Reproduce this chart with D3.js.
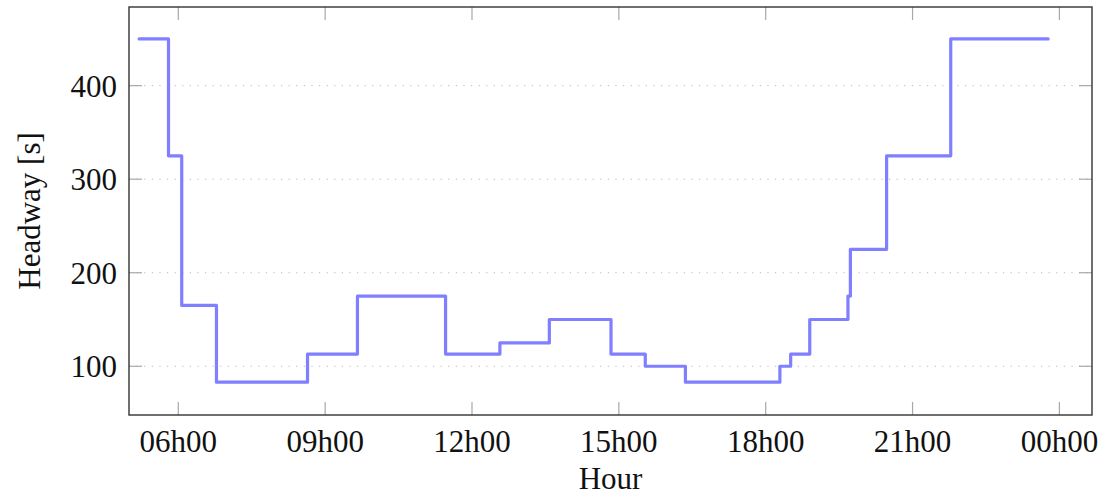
<!DOCTYPE html>
<html>
<head>
<meta charset="utf-8">
<script src="https://cdn.jsdelivr.net/npm/d3@7"></script>
<style>
  body { margin: 0; background: #fff; }
  text { font-family: "Liberation Serif", "DejaVu Serif", serif; fill: #111; }
</style>
</head>
<body>
<div id="chart"></div>
<script>
// step start times (decimal hours) and headway in seconds
var hours = [5.20, 5.80, 6.07, 6.78, 8.64, 9.66, 11.46, 12.57, 13.58, 14.84, 15.54, 16.36, 18.29, 18.51, 18.90, 19.68, 19.73, 20.47, 21.78, 23.77];
var headways = [450, 325, 165, 83, 113, 175, 113, 125, 150, 113, 100, 83, 100, 113, 150, 175, 225, 325, 450, 450];
var xTicks = [6, 9, 12, 15, 18, 21, 24];
var xTickLabels = ["06h00", "09h00", "12h00", "15h00", "18h00", "21h00", "00h00"];
var yTicks = [100, 200, 300, 400];

var width = 1102, height = 498,
	margin = { top: 7, right: 10, bottom: 83, left: 129 };

var svg = d3.select("#chart").append("svg")
	.attr("width", width)
	.attr("height", height);

var x = d3.scaleLinear()
	.domain([4.993, 24.666])
	.range([margin.left, width - margin.right]);

var y = d3.scaleLinear()
	.domain([47.9, 484.1])
	.range([height - margin.bottom, margin.top]);

var x0 = margin.left, x1 = width - margin.right,
	y0 = height - margin.bottom, y1 = margin.top;

// dotted horizontal grid
svg.selectAll(".grid")
	.data(yTicks)
	.enter().append("line")
	.attr("class", "grid")
	.attr("x1", x0).attr("x2", x1)
	.attr("y1", function(d) { return y(d); })
	.attr("y2", function(d) { return y(d); })
	.attr("stroke", "#b8b8b8")
	.attr("stroke-width", 1)
	.attr("stroke-dasharray", "1.2,6.4");

// inner ticks on all four sides
var tickLen = 13;
xTicks.forEach(function(t) {
	svg.append("line").attr("x1", x(t)).attr("x2", x(t)).attr("y1", y0).attr("y2", y0 - tickLen)
		.attr("stroke", "#a8a8a8").attr("stroke-width", 1.2);
	svg.append("line").attr("x1", x(t)).attr("x2", x(t)).attr("y1", y1).attr("y2", y1 + tickLen)
		.attr("stroke", "#a8a8a8").attr("stroke-width", 1.2);
});
yTicks.forEach(function(t) {
	svg.append("line").attr("x1", x0).attr("x2", x0 + tickLen).attr("y1", y(t)).attr("y2", y(t))
		.attr("stroke", "#a8a8a8").attr("stroke-width", 1.2);
	svg.append("line").attr("x1", x1).attr("x2", x1 - tickLen).attr("y1", y(t)).attr("y2", y(t))
		.attr("stroke", "#a8a8a8").attr("stroke-width", 1.2);
});

// the headway step line
var line = d3.line()
	.x(function(d, i) { return x(hours[i]); })
	.y(function(d) { return y(d); })
	.curve(d3.curveStepAfter);

svg.append("path")
	.datum(headways)
	.attr("d", line)
	.attr("fill", "none")
	.attr("stroke", "#7f7fff")
	.attr("stroke-width", 3.2)
	.attr("stroke-linejoin", "round")
	.attr("stroke-linecap", "round");

// frame
svg.append("rect")
	.attr("x", x0).attr("y", y1)
	.attr("width", x1 - x0).attr("height", y0 - y1)
	.attr("fill", "none")
	.attr("stroke", "#333")
	.attr("stroke-width", 1.4);

// tick labels
svg.selectAll(".xlabel")
	.data(xTicks)
	.enter().append("text")
	.attr("class", "xlabel")
	.attr("x", function(d) { return x(d); })
	.attr("y", y0 + 37)
	.attr("text-anchor", "middle")
	.style("font-size", "31px")
	.text(function(d, i) { return xTickLabels[i]; });

svg.selectAll(".ylabel")
	.data(yTicks)
	.enter().append("text")
	.attr("class", "ylabel")
	.attr("x", x0 - 12)
	.attr("y", function(d) { return y(d); })
	.attr("dy", "0.35em")
	.attr("text-anchor", "end")
	.style("font-size", "31px")
	.text(function(d) { return d; });

// axis titles
svg.append("text")
	.attr("x", (x0 + x1) / 2)
	.attr("y", 489)
	.attr("text-anchor", "middle")
	.style("font-size", "31px")
	.text("Hour");

svg.append("text")
	.attr("transform", "translate(40," + ((y0 + y1) / 2) + ") rotate(-90)")
	.attr("text-anchor", "middle")
	.style("font-size", "31px")
	.text("Headway [s]");
</script>
</body>
</html>
